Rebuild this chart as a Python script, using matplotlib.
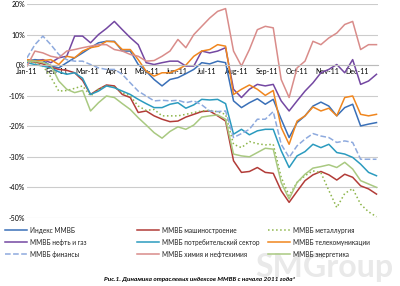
import numpy as np
import matplotlib
matplotlib.use('Agg')
import matplotlib.pyplot as plt
from matplotlib.lines import Line2D

plt.rcParams['font.family'] = ['Lato', 'DejaVu Sans']

# month ticks
months = ['Jan-11', 'Feb-11', 'Mar-11', 'Apr-11', 'May-11', 'Jun-11',
          'Jul-11', 'Aug-11', 'Sep-11', 'Oct-11', 'Nov-11', 'Dec-11']

# change since start of 2011, %, read roughly every ~8 days
micex = [1.3, 1.8, 1.5, -0.3, -0.9, 0.8, 2.4, 4.0, 5.7, 7.3, 7.8, 7.8, 4.6, 4.6, 0.2,
         -2.0, -4.7, -6.8, -4.7, -4.1, -2.8, -1.4, 0.8, 0.4, 1.3, 0.8, -11.7, -13.9, -12.3, -11.0,
         -12.8, -11.2, -17.7, -23.7, -18.8, -16.6, -13.4, -12.1, -13.4, -16.6, -13.9, -12.8, -19.9, -19.3, -18.8]
mash = [1.3, 1.0, 0.4, -0.7, -1.4, -1.7, -2.5, -5.0, -9.6, -7.9, -6.5, -6.8, -9.6, -10.6, -15.5,
        -15.0, -16.6, -17.7, -18.5, -18.3, -17.0, -16.1, -15.2, -15.0, -16.6, -18.3, -31.3, -35.1, -34.8, -33.5,
        -35.1, -35.4, -41.1, -44.9, -41.3, -37.8, -35.9, -34.8, -35.9, -37.6, -35.7, -36.7, -39.5, -40.5, -42.2]
metal = [1.3, 0.8, -0.3, -3.9, -8.5, -8.3, -7.6, -6.8, -10.1, -7.9, -6.8, -7.2, -9.0, -10.1, -13.4,
         -14.8, -14.5, -16.6, -16.6, -16.6, -16.1, -15.5, -15.0, -14.8, -15.3, -16.1, -25.9, -27.0, -25.0, -25.7,
         -26.1, -25.9, -36.7, -42.7, -38.4, -36.2, -34.6, -35.2, -41.0, -46.6, -42.0, -40.4, -45.5, -48.0, -49.6]
oilgas = [1.8, 1.3, 1.8, 0.8, 2.4, 2.9, 9.5, 9.5, 7.3, 10.0, 12.0, 14.3, 11.6, 9.0, 6.7,
          0.8, 0.2, 0.8, 1.3, 1.3, -0.3, -0.3, 4.6, 4.0, 4.6, 5.7, -7.9, -10.6, -7.9, -6.3,
          -6.8, -6.3, -11.7, -15.0, -11.7, -8.5, -5.8, -2.5, -1.4, 0.2, -2.5, 1.8, -6.3, -5.2, -3.0]
consumer = [0.8, 0.2, -0.3, -0.9, -2.2, -3.0, -2.5, -4.3, -9.6, -8.5, -6.8, -7.4, -8.5, -9.6, -11.2,
            -12.6, -13.9, -13.9, -12.8, -12.3, -14.1, -13.0, -11.2, -11.4, -11.2, -12.6, -22.6, -21.0, -22.8, -21.5,
            -21.0, -21.0, -28.0, -33.5, -29.7, -28.3, -25.9, -27.0, -25.9, -28.6, -29.1, -30.2, -32.4, -35.1, -36.2]
telecom = [1.8, 1.3, 1.5, 1.8, 0.2, 2.9, 2.4, 4.6, 5.7, 6.2, 7.8, 7.6, 5.1, 5.1, 1.8,
           -2.0, -3.6, -2.5, -2.5, -1.4, 0.0, 2.9, 4.6, 5.1, 6.7, 6.2, -9.6, -7.9, -6.5, -7.9,
           -9.9, -8.3, -20.4, -25.9, -18.3, -16.6, -13.7, -15.0, -14.1, -16.6, -10.6, -10.1, -16.1, -16.6, -16.1]
finance = [2.4, 6.7, 9.5, 6.7, 3.5, 1.8, 1.3, 1.3, 0.2, -0.9, -1.4, -1.4, -3.0, -5.8, -8.5,
           -10.1, -11.7, -11.5, -11.7, -11.5, -12.3, -11.7, -13.0, -15.0, -15.2, -15.0, -23.7, -22.4, -21.0, -17.7,
           -17.7, -15.2, -25.9, -30.2, -26.4, -24.2, -22.4, -23.2, -23.7, -25.3, -24.8, -25.3, -30.8, -30.8, -30.8]
chem = [-0.3, 4.6, 4.0, 2.9, 2.4, 4.6, 5.1, 5.7, 6.2, 6.7, 6.7, 5.1, 4.6, 3.5, 2.9,
        1.3, 1.5, 2.9, 4.6, 8.4, 5.7, 10.0, 12.7, 15.4, 17.6, 18.5, 4.6, -0.3, 5.1, 11.6,
        12.7, 12.2, -4.7, -10.6, -0.9, 1.3, 7.8, 6.7, 8.9, 10.5, 13.3, 14.3, 5.1, 6.7, 6.7]
energy = [1.3, 1.3, 0.8, 0.0, -5.2, -7.9, -9.0, -8.3, -15.0, -12.3, -10.1, -10.6, -12.6, -14.5, -17.2,
          -19.6, -22.1, -23.9, -21.7, -20.2, -21.0, -19.6, -17.0, -16.6, -16.3, -17.7, -29.1, -29.7, -30.0, -28.6,
          -27.2, -27.5, -38.4, -43.8, -38.4, -35.7, -33.7, -33.2, -32.6, -33.5, -31.8, -34.0, -37.8, -38.9, -40.0]

x = np.linspace(0, 11.65, len(micex))

series = [
    ('Индекс ММВБ', micex, '#3a70b8', '-'),
    ('ММВБ машиностроение', mash, '#b23c38', '-'),
    ('ММВБ металлургия', metal, '#8db54a', ':'),
    ('ММВБ нефть и газ', oilgas, '#7448a2', '-'),
    ('ММВБ потребительский сектор', consumer, '#2b9bbf', '-'),
    ('ММВБ телекомуникации', telecom, '#f0861e', '-'),
    ('ММВБ финансы', finance, '#8eaade', '--'),
    ('ММВБ химия и нефтехимия', chem, '#d98c8a', '-'),
    ('ММВБ энергетика', energy, '#a9c981', '-'),
]

fig = plt.figure(figsize=(4, 2.86), dpi=100)

# watermark sits behind everything
fig.text(0.81, 1 - 267 / 286, 'SMGroup', fontsize=23, fontweight='bold', color='#e9e9e9',
         ha='center', va='center', zorder=0)

ax = fig.add_axes([0.0675, 0.238, 0.8775, 0.748])
ax.patch.set_alpha(0)

for name, vals, col, ls in series:
    ax.plot(x, vals, color=col, ls=ls, lw=1.1)

ax.set_xlim(0, 11.7)
ax.set_ylim(-50, 20)
ax.set_yticks(range(-50, 21, 10))
ax.set_yticklabels(['%d%%' % v for v in range(-50, 21, 10)])
ax.yaxis.grid(True, color='#cccccc', lw=0.8)
ax.set_axisbelow(True)
ax.set_xticks(range(12))
ax.set_xticklabels(months)
ax.tick_params(axis='y', length=0, pad=1.5, labelsize=5)
ax.tick_params(axis='x', length=0, pad=2, labelsize=5.1)
for t in ax.get_xticklabels():
    t.set_fontweight('bold')
ax.spines['bottom'].set_position(('data', 0))
ax.spines['bottom'].set_color('#bbbbbb')
ax.spines['bottom'].set_linewidth(0.8)
for s in ['top', 'right', 'left']:
    ax.spines[s].set_visible(False)

# legend, 3 x 3 grid drawn by hand
col_x = [5, 137, 268]
row_y = [230, 242, 254]
for i, (name, vals, col, ls) in enumerate(series):
    r, c = i // 3, i % 3
    x0 = col_x[c] / 400
    y0 = 1 - row_y[r] / 286
    fig.add_artist(Line2D([x0, x0 + 22 / 400], [y0, y0], color=col, ls=ls, lw=1.1))
    fig.text(x0 + 25 / 400, y0, name, fontsize=4.7, va='center', ha='left', color='#222222')

fig.text(0.5, 1 - 279 / 286, 'Рис.1. Динамика отраслевых индексов ММВБ с начала 2011 года*',
         fontsize=4.6, fontweight='bold', fontstyle='italic', ha='center', va='center')

fig.savefig('out.png', dpi=100)
